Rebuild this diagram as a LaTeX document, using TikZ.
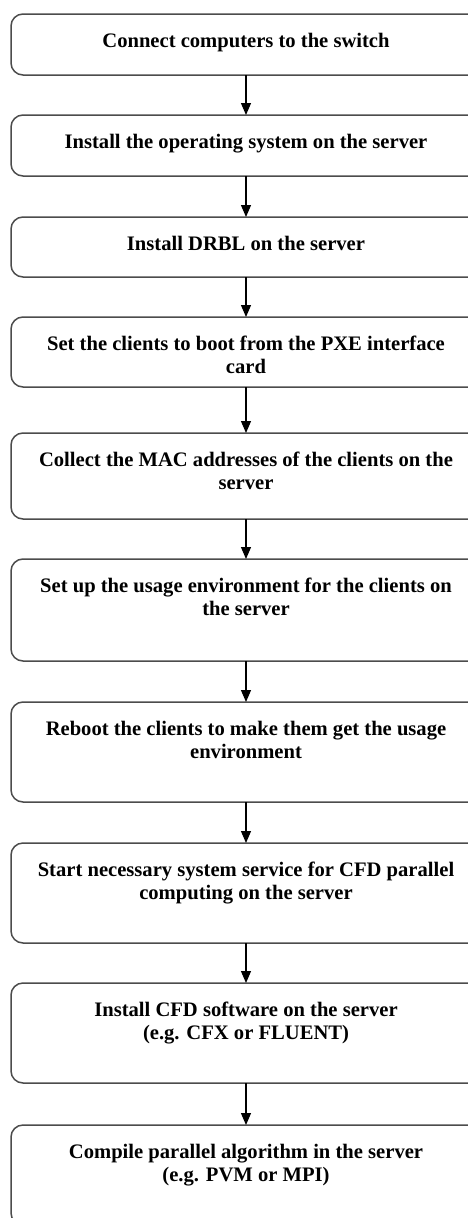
\documentclass[tikz,border=0pt]{standalone}
\usepackage{fontspec}
\setmainfont{Liberation Serif}
\usetikzlibrary{positioning,arrows.meta}

\newcommand{\boxtext}[2]{\parbox[c][#1][t]{450pt}{\centering\rule{0pt}{33pt}#2}}

\begin{document}
\begin{tikzpicture}[
    x=1pt, y=1pt,
    stepbox/.style = {rectangle, rounded corners=12pt, draw=black!70,
line width=1.5pt, minimum width=470pt, inner sep=0pt, outer sep=0pt,
font=\fontsize{20.6pt}{23pt}\selectfont\bfseries},
node distance=40pt,
>={Triangle[width=10pt,length=12pt]}
]
  \useasboundingbox (0,0) rectangle (468,-1218);
  \clip (0,0) rectangle (468,-1218);

  \node (switch)  [stepbox, anchor=north] at (246,-14) {\boxtext{61pt}{Connect computers to the switch}};
  \node (os)      [stepbox, below=of switch] {\boxtext{61pt}{Install the operating system on the server}};
  \node (drbl)    [stepbox, below=41pt of os] {\boxtext{60pt}{Install DRBL on the server}};
  \node (pxe)     [stepbox, below=of drbl] {\boxtext{70pt}{Set the clients to boot from the PXE interface\\card}};
  \node (mac)     [stepbox, below=46pt of pxe] {\boxtext{86pt}{Collect the MAC addresses of the clients on the\\server}};
  \node (env)     [stepbox, below=of mac] {\boxtext{102pt}{Set up the usage environment for the clients on\\the server}};
  \node (reboot)  [stepbox, below=41pt of env] {\boxtext{100pt}{Reboot the clients to make them get the usage\\environment}};
  \node (service) [stepbox, below=41pt of reboot] {\boxtext{100pt}{Start necessary system service for CFD parallel\\computing on the server}};
  \node (cfd)     [stepbox, below=of service] {\boxtext{100pt}{Install CFD software on the server\\(e.g. CFX or FLUENT)}};
  \node (compile) [stepbox, below=42pt of cfd] {\boxtext{100pt}{Compile parallel algorithm in the server\\(e.g. PVM or MPI)}};

  \draw[->, line width=1.2pt]     (switch) -- (os);
  \draw[->, line width=1.2pt]     (os) -- (drbl);
  \draw[->, line width=1.2pt]     (drbl) -- (pxe);
  \draw[->, line width=1.2pt]     (pxe) -- (mac);
  \draw[->, line width=1.2pt]     (mac) -- (env);
  \draw[->, line width=1.2pt]     (env) -- (reboot);
  \draw[->, line width=1.2pt]     (reboot) -- (service);
  \draw[->, line width=1.2pt]     (service) -- (cfd);
  \draw[->, line width=1.2pt]     (cfd) -- (compile);

\end{tikzpicture}
\end{document}
